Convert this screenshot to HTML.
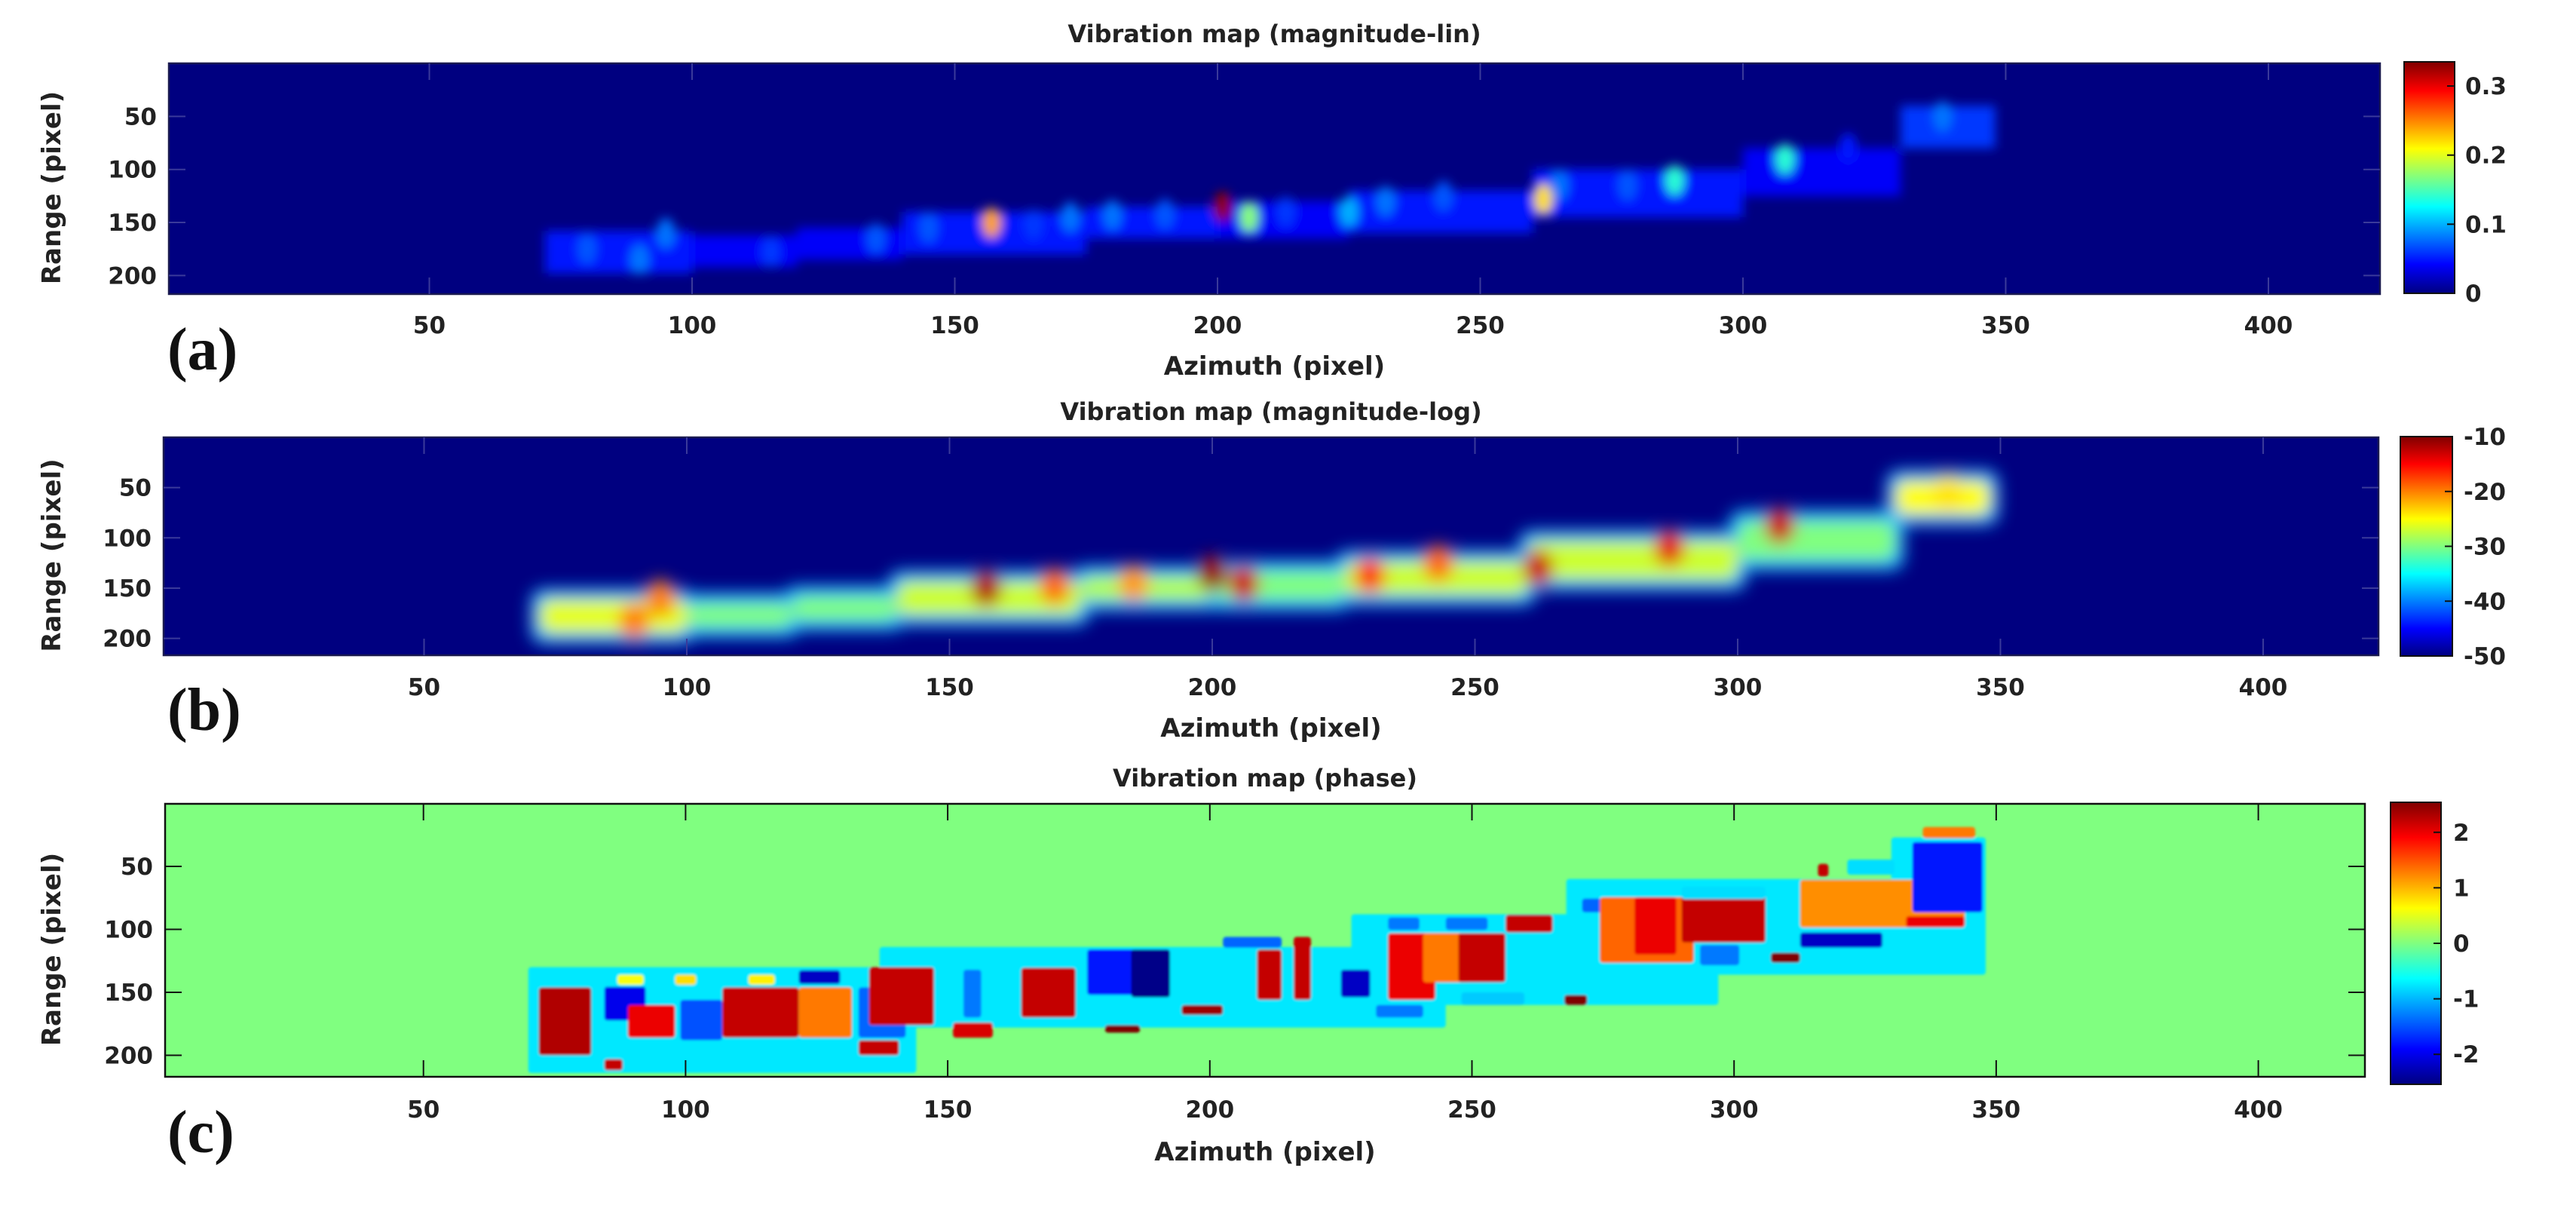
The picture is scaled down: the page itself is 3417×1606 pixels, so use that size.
<!DOCTYPE html>
<html><head><meta charset="utf-8">
<style>
html,body{margin:0;padding:0;background:#fff;}
svg{display:block;}
text{font-family:"DejaVu Sans","Liberation Sans",sans-serif;font-weight:bold;fill:#222;}
.lbl{font-family:"Liberation Serif",serif;font-weight:bold;fill:#111;}
</style></head>
<body>
<svg id="fig" width="3417" height="1606" viewBox="0 0 3417 1606" xmlns="http://www.w3.org/2000/svg">
<defs>
<filter id="blurA" x="-50%" y="-50%" width="200%" height="200%"><feGaussianBlur stdDeviation="7"/></filter>
<filter id="blurB" x="-50%" y="-50%" width="200%" height="200%"><feGaussianBlur stdDeviation="11"/></filter>
<filter id="blurC" x="-20%" y="-20%" width="140%" height="140%"><feGaussianBlur stdDeviation="1.5"/></filter>
<linearGradient id="jetV" x1="0" y1="1" x2="0" y2="0">
<stop offset="0" stop-color="#000080"/><stop offset="0.125" stop-color="#0000ff"/><stop offset="0.375" stop-color="#00ffff"/><stop offset="0.5" stop-color="#80ff80"/><stop offset="0.625" stop-color="#ffff00"/><stop offset="0.875" stop-color="#ff0000"/><stop offset="1" stop-color="#800000"/>
</linearGradient>
</defs>
</svg>
<script>
// ---------- data ----------
// panel (a) magnitude-lin blobs
const linAz  = [80,95,90,115,135,145,157,165,172,180,190,201,206,213,225,232,243,262,265,278,287,308,320,338];
const linRg  = [175,160,185,178,165,155,150,152,145,143,142,135,145,140,140,130,125,128,115,115,110,90,80,50];
const linVal = [0.07,0.08,0.08,0.06,0.07,0.07,0.24,0.06,0.08,0.08,0.07,0.33,0.17,0.06,0.1,0.08,0.07,0.22,0.08,0.07,0.14,0.14,0.05,0.08];
// band segments (shared extents) : azimuth start/end, range top/bottom
const bandAz0 = [72,100,120,140,175,200,225,260,300,330];
const bandAz1 = [100,120,140,175,200,225,260,300,330,348];
const bandR0  = [158,162,155,140,135,130,120,100,80,40];
const bandR1  = [198,192,185,180,165,165,160,145,125,80];
const bandLin = [0.05,0.04,0.04,0.05,0.05,0.04,0.05,0.05,0.04,0.06];
// panel (b) magnitude-log
const bandLog = [-26,-30,-30,-27,-28,-30,-27,-27,-30,-25];
const logAz  = [157,200,206,230,243,262,287,308,170,185,95,90,340];
const logRg  = [150,135,145,137,125,130,110,88,148,145,160,183,55];
const logVal = [-12,-11,-13,-17,-19,-13,-14,-13,-19,-21,-20,-20,-24];
// panel (c) phase rectangles: az0, az1, r0, r1, phase
const phAz0 = [70,137,227,268,330, 72,84.5,89,99,107,121.6,133,135,121.6,133,151,153,164,180,176.6,185,194.6,209,216,202.5,225,231.7,234,240.7,247.4,234,245,256.4,248,267.6,271,274.4,281,290,293.5,307,290,312.6,312.6,332.8,321.6,334,336,316,84.5,87,98,112];
const phAz1 = [144,245,297,348,348, 82,92.4,98,107,121.6,131.7,142,147.4,129.5,140.7,158.6,156.4,174.4,186.7,192.4,192.4,202.5,213.7,219.3,213.7,230.6,240.7,243,249.7,256.4,240,253,265.4,260,272,282,292.3,289,306,301,312.6,306,328.3,344,344,330.6,347.4,346,318,88,92,102,117];
const phR0  = [130,114,88,60,27, 146,145.5,160,156,146,146,146,130,132.5,188,174,132,130.5,176,116,116,160,116,106,106,132,160,103,103,103,90.5,90.5,88.5,150,152,75.5,74.5,74.5,72.5,112.5,118.5,66,102.5,60.6,89.5,44.6,30.6,18.7,48,203,136,136,136];
const phR1  = [214,178,160,136,91, 200,172.3,186,188,186,186,186,176,143.4,200,186,170,170,182,152,154,168,156,156,114.5,154,170,156,142,142,100.5,100.5,102.5,160,160,86.5,126.5,120,110.5,128.5,126.5,76,114.5,98.5,98.5,56.6,86.5,27.6,58,212,144,144,144];
const phVal = [-0.75,-0.75,-0.75,-0.75,-0.75, 2.3,-2.0,2.0,-1.5,2.2,1.3,-1.4,2.2,-2.2,2.2,2.1,-1.3,2.2,2.6,-1.8,-2.5,2.4,2.2,2.2,-1.4,-2.2,-1.3,2.0,1.3,2.2,-1.3,-1.3,2.2,-0.9,2.6,-1.4,1.4,2.0,2.2,-1.3,2.6,-0.8,-2.2,1.2,2.0,-0.8,-1.8,1.3,2.2,2.2,0.6,0.8,0.7];
// tick labels
const xTicks = [50,100,150,200,250,300,350,400];
const yTicks = [50,100,150,200];
const cbTicksA = [0,0.1,0.2,0.3];
const cbTicksB = [-50,-40,-30,-20,-10];
const cbTicksC = [-2,-1,0,1,2];

// ---------- helpers ----------
const NS = "http://www.w3.org/2000/svg";
const svg = document.getElementById('fig');
function el(tag, attrs, parent){ const e=document.createElementNS(NS,tag); for(const k in attrs) e.setAttribute(k,attrs[k]); (parent||svg).appendChild(e); return e; }
function clamp(v){return Math.max(0,Math.min(1,v));}
function jet(t){ t=clamp(t); const r=clamp(1.5-Math.abs(4*t-3)), g=clamp(1.5-Math.abs(4*t-2)), b=clamp(1.5-Math.abs(4*t-1));
  return 'rgb('+Math.round(r*255)+','+Math.round(g*255)+','+Math.round(b*255)+')'; }

const panels = [
 {id:'a', x0:221, kx:6.97, left:224, right:3157, y0:84, ky:1.407, top:84, bottom:390, title:'Vibration map (magnitude-lin)', titleY:56, tickY:442, xlabY:497, label:'(a)', labY:490, cbx:3189, cbw:67, cbt:82, cbb:389, cbMin:0, cbMax:0.335, cbTicks:cbTicksA, cbLabX:3270, bg:'#000080', tickCol:'#3a3a9a'},
 {id:'b', x0:214, kx:6.97, left:217, right:3155, y0:580, ky:1.333, top:580, bottom:869, title:'Vibration map (magnitude-log)', titleY:557, tickY:922, xlabY:977, label:'(b)', labY:968, cbx:3184, cbw:69, cbt:579, cbb:870, cbMin:-50, cbMax:-10, cbTicks:cbTicksB, cbLabX:3268, bg:'#000080', tickCol:'#3a3a9a'},
 {id:'c', x0:214, kx:6.954, left:219, right:3137, y0:1065.5, ky:1.67, top:1066, bottom:1428, title:'Vibration map (phase)', titleY:1043, tickY:1482, xlabY:1539, label:'(c)', labY:1528, cbx:3171, cbw:67, cbt:1064, cbb:1438, cbMin:-2.54, cbMax:2.54, cbTicks:cbTicksC, cbLabX:3254, bg:'#80ff80', tickCol:'#111'}
];

panels.forEach(p=>{
  const X = v => p.x0 + v*p.kx;
  const Y = v => p.y0 + v*p.ky;
  const W = p.right-p.left, H = p.bottom-p.top;
  const g = el('g',{});
  
  
  const cp = el('clipPath',{id:'clip'+p.id});
  el('rect',{x:p.left,y:p.top,width:W,height:H},cp);
  const bg = el('rect',{x:p.left,y:p.top,width:W,height:H,fill:p.bg},g);
  
  
  const marks = el('g',{'clip-path':'url(#clip'+p.id+')'},g);
  const norm = v => (v-p.cbMin)/(p.cbMax-p.cbMin);

  if(p.id==='a'){
    const mg = el('g',{filter:'url(#blurA)'},marks);
    for(let i=0;i<bandAz0.length;i++){
      const r=el('rect',{x:X(bandAz0[i]),y:Y(bandR0[i]),width:X(bandAz1[i])-X(bandAz0[i]),height:Y(bandR1[i])-Y(bandR0[i]),fill:jet(norm(bandLin[i]))},mg);
      
      
    }
    for(let i=0;i<linAz.length;i++){
      const e=el('ellipse',{cx:X(linAz[i]),cy:Y(linRg[i]),rx:12,ry:20,fill:jet(norm(linVal[i]))},mg);
      
      
    }
  } else if(p.id==='b'){
    const mg = el('g',{filter:'url(#blurB)'},marks);
    for(let i=0;i<bandAz0.length;i++){
      const o=el('rect',{x:X(bandAz0[i])-12,y:Y(bandR0[i])-10,width:X(bandAz1[i])-X(bandAz0[i])+24,height:Y(bandR1[i])-Y(bandR0[i])+20,rx:18,fill:jet(norm(-38))},mg);
      
      
    }
    for(let i=0;i<bandAz0.length;i++){
      const r=el('rect',{x:X(bandAz0[i]),y:Y(bandR0[i])+4,width:X(bandAz1[i])-X(bandAz0[i]),height:Y(bandR1[i])-Y(bandR0[i])-8,rx:14,fill:jet(norm(bandLog[i]))},mg);
      
      
    }
    for(let i=0;i<logAz.length;i++){
      const e=el('ellipse',{cx:X(logAz[i]),cy:Y(logRg[i]),rx:20,ry:24,fill:jet(norm(logVal[i]))},mg);
      
      
    }
  } else {
    const mg = el('g',{filter:'url(#blurC)'},marks);
    for(let i=0;i<phAz0.length;i++){
      const r=el('rect',{x:X(phAz0[i]),y:Y(phR0[i]),width:X(phAz1[i])-X(phAz0[i]),height:Y(phR1[i])-Y(phR0[i]),rx:4,fill:jet(norm(phVal[i]))},mg);
      
      
    }
  }
  // frame
  const fr = el('rect',{x:p.left,y:p.top,width:W,height:H,fill:'none',stroke:p.id==='c'?'#111':'#1a1a50','stroke-width':2.5},g);
  
  
  // x ticks
  xTicks.forEach(t=>{
    el('line',{x1:X(t),x2:X(t),y1:p.top,y2:p.top+22,stroke:p.tickCol,'stroke-width':2},g);
    el('line',{x1:X(t),x2:X(t),y1:p.bottom,y2:p.bottom-22,stroke:p.tickCol,'stroke-width':2},g);
    const tx=el('text',{x:X(t),y:p.tickY,'font-size':31,'text-anchor':'middle'},g);
    tx.textContent=t;
    
    
  });
  yTicks.forEach(t=>{
    el('line',{x1:p.left,x2:p.left+22,y1:Y(t),y2:Y(t),stroke:p.tickCol,'stroke-width':2},g);
    el('line',{x1:p.right,x2:p.right-22,y1:Y(t),y2:Y(t),stroke:p.tickCol,'stroke-width':2},g);
    const ty=el('text',{x:p.left-16,y:Y(t)+11,'font-size':31,'text-anchor':'end'},g);
    ty.textContent=t;
    
    
  });
  const ttl=el('text',{x:(p.left+p.right)/2,y:p.titleY,'font-size':32,'text-anchor':'middle'},g);
  ttl.textContent=p.title;
  
  
  const xl=el('text',{x:(p.left+p.right)/2,y:p.xlabY,'font-size':34,'text-anchor':'middle'},g);
  xl.textContent='Azimuth (pixel)';
  
  
  const ycy=(p.top+p.bottom)/2;
  const yl=el('text',{x:80,y:ycy+12,'font-size':34,'text-anchor':'middle',transform:'rotate(-90 80 '+(ycy+12)+')'},g);
  yl.textContent='Range (pixel)';
  
  
  const pl=el('text',{x:222,y:p.labY,'font-size':80,'class':'lbl'},g);
  pl.textContent=p.label;
  
  
  // colorbar
  const cb=el('rect',{x:p.cbx,y:p.cbt,width:p.cbw,height:p.cbb-p.cbt,fill:'url(#jetV)',stroke:'#111','stroke-width':2},g);
  
  
  p.cbTicks.forEach(t=>{
    const yy = p.cbb - norm(t)*(p.cbb-p.cbt);
    el('line',{x1:p.cbx+p.cbw-10,x2:p.cbx+p.cbw,y1:yy,y2:yy,stroke:'#111','stroke-width':2},g);
    const ct=el('text',{x:p.cbLabX,y:yy+11,'font-size':31},g);
    ct.textContent=t;
    
    
  });
});
</script>
</body></html>
